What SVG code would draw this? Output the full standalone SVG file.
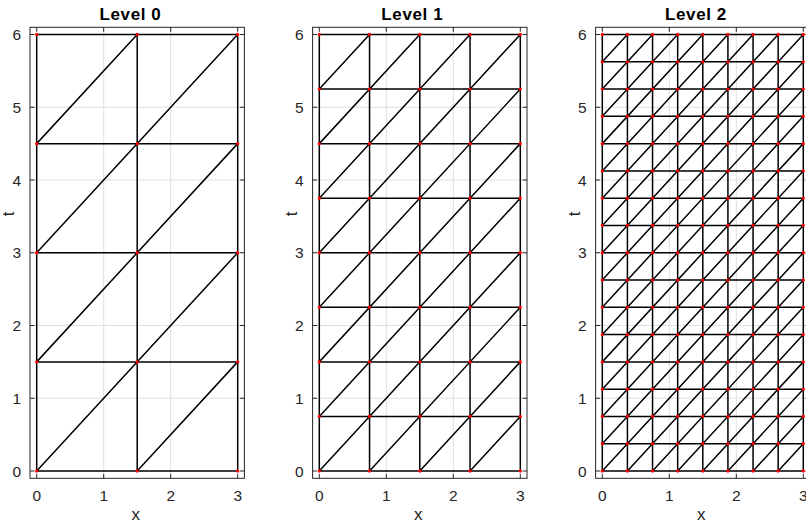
<svg xmlns="http://www.w3.org/2000/svg" xmlns:xlink="http://www.w3.org/1999/xlink" width="806" height="526" viewBox="0 0 806 526">
<style>
.grid{stroke:#dfdfdf;stroke-width:1;fill:none}
.mesh{stroke:#000;stroke-width:1.5;fill:none}
.box{fill:none;stroke:#262626;stroke-width:1}
.tick{stroke:#262626;stroke-width:1;fill:none}
.dot{stroke:#f00;stroke-width:3.3;stroke-linecap:round;fill:none}
.tl{font-family:"Liberation Sans",Arial,sans-serif;font-size:15.5px;fill:#262626}
.xt{text-anchor:middle}
.yt{text-anchor:end}
.lab{font-family:"Liberation Sans",Arial,sans-serif;font-size:17px;fill:#262626;text-anchor:middle}
.title{font-family:"Liberation Sans",Arial,sans-serif;font-size:17px;font-weight:bold;fill:#000;text-anchor:middle;letter-spacing:0.6px}
</style>
<defs>
<g id="frame">
<g transform="translate(36.7 471) scale(67 -72.75)">
<path class="grid" vector-effect="non-scaling-stroke" d="M1 -.1V6.1M2 -.1V6.1M-.1 1H3.1M-.1 2H3.1M-.1 3H3.1M-.1 4H3.1M-.1 5H3.1"/>
</g>
<rect class="box" x="30" y="27.3" width="214.4" height="451"/>
<path class="tick" d="M36.7 478.3v-4.5M103.7 478.3v-4.5M170.7 478.3v-4.5M237.7 478.3v-4.5M36.7 27.3v4.5M103.7 27.3v4.5M170.7 27.3v4.5M237.7 27.3v4.5M30 471h4.5M30 398.25h4.5M30 325.5h4.5M30 252.75h4.5M30 180h4.5M30 107.25h4.5M30 34.5h4.5M244.4 471h-4.5M244.4 398.25h-4.5M244.4 325.5h-4.5M244.4 252.75h-4.5M244.4 180h-4.5M244.4 107.25h-4.5M244.4 34.5h-4.5"/>
<g class="tl xt">
<text x="36.7" y="501">0</text><text x="103.7" y="501">1</text><text x="170.7" y="501">2</text><text x="237.7" y="501">3</text>
</g>
<g class="tl yt">
<text x="21" y="476.6">0</text><text x="21" y="403.85">1</text><text x="21" y="331.1">2</text><text x="21" y="258.35">3</text><text x="21" y="185.6">4</text><text x="21" y="112.85">5</text><text x="21" y="40.1">6</text>
</g>
<text class="lab" x="135.7" y="519.5">x</text>
<text class="lab" transform="translate(14 214) rotate(-90)" x="0" y="0">t</text>
</g>
</defs>

<g id="level0">
<use xlink:href="#frame"/>
<g transform="translate(36.7 471) scale(67 -72.75)">
<path class="mesh" vector-effect="non-scaling-stroke" d="M0 0V6M1.5 0V6M3 0V6M0 0H3M0 1.5H3M0 3H3M0 4.5H3M0 6H3M1.5 0L3 1.5M0 0L3 3M0 1.5L3 4.5M0 3L3 6M0 4.5L1.5 6"/>
</g>
<g class="dot" stroke-dasharray="0 109.125">
<path d="M36.7 471V34"/><path d="M137.2 471V34"/><path d="M237.7 471V34"/>
</g>
<text class="title" x="130.5" y="20">Level 0</text>
</g>

<g id="level1">
<use xlink:href="#frame" transform="translate(282.6 0)"/>
<g transform="translate(319.3 471) scale(67 -72.75)">
<path class="mesh" vector-effect="non-scaling-stroke" d="M0 0V6M.75 0V6M1.5 0V6M2.25 0V6M3 0V6M0 0H3M0 .75H3M0 1.5H3M0 2.25H3M0 3H3M0 3.75H3M0 4.5H3M0 5.25H3M0 6H3M2.25 0L3 .75M1.5 0L3 1.5M.75 0L3 2.25M0 0L3 3M0 .75L3 3.75M0 1.5L3 4.5M0 2.25L3 5.25M0 3L3 6M0 3.75L2.25 6M0 4.5L1.5 6M0 5.25L.75 6"/>
</g>
<g class="dot" stroke-dasharray="0 54.5625">
<path d="M319.3 471V34"/><path d="M369.55 471V34"/><path d="M419.8 471V34"/><path d="M470.05 471V34"/><path d="M520.3 471V34"/>
</g>
<text class="title" x="412.3" y="20">Level 1</text>
</g>

<g id="level2">
<use xlink:href="#frame" transform="translate(565.6 0)"/>
<g transform="translate(602.3 471) scale(67 -72.75)">
<path class="mesh" vector-effect="non-scaling-stroke" d="M0 0V6M.375 0V6M.75 0V6M1.125 0V6M1.5 0V6M1.875 0V6M2.25 0V6M2.625 0V6M3 0V6M0 0H3M0 .375H3M0 .75H3M0 1.125H3M0 1.5H3M0 1.875H3M0 2.25H3M0 2.625H3M0 3H3M0 3.375H3M0 3.75H3M0 4.125H3M0 4.5H3M0 4.875H3M0 5.25H3M0 5.625H3M0 6H3M2.625 0L3 .375M2.25 0L3 .75M1.875 0L3 1.125M1.5 0L3 1.5M1.125 0L3 1.875M.75 0L3 2.25M.375 0L3 2.625M0 0L3 3M0 .375L3 3.375M0 .75L3 3.75M0 1.125L3 4.125M0 1.5L3 4.5M0 1.875L3 4.875M0 2.25L3 5.25M0 2.625L3 5.625M0 3L3 6M0 3.375L2.625 6M0 3.75L2.25 6M0 4.125L1.875 6M0 4.5L1.5 6M0 4.875L1.125 6M0 5.25L.75 6M0 5.625L.375 6"/>
</g>
<g class="dot" stroke-dasharray="0 27.28125">
<path d="M602.3 471V34"/><path d="M627.425 471V34"/><path d="M652.55 471V34"/><path d="M677.675 471V34"/><path d="M702.8 471V34"/><path d="M727.925 471V34"/><path d="M753.05 471V34"/><path d="M778.175 471V34"/><path d="M803.3 471V34"/>
</g>
<text class="title" x="696" y="20">Level 2</text>
</g>
</svg>
